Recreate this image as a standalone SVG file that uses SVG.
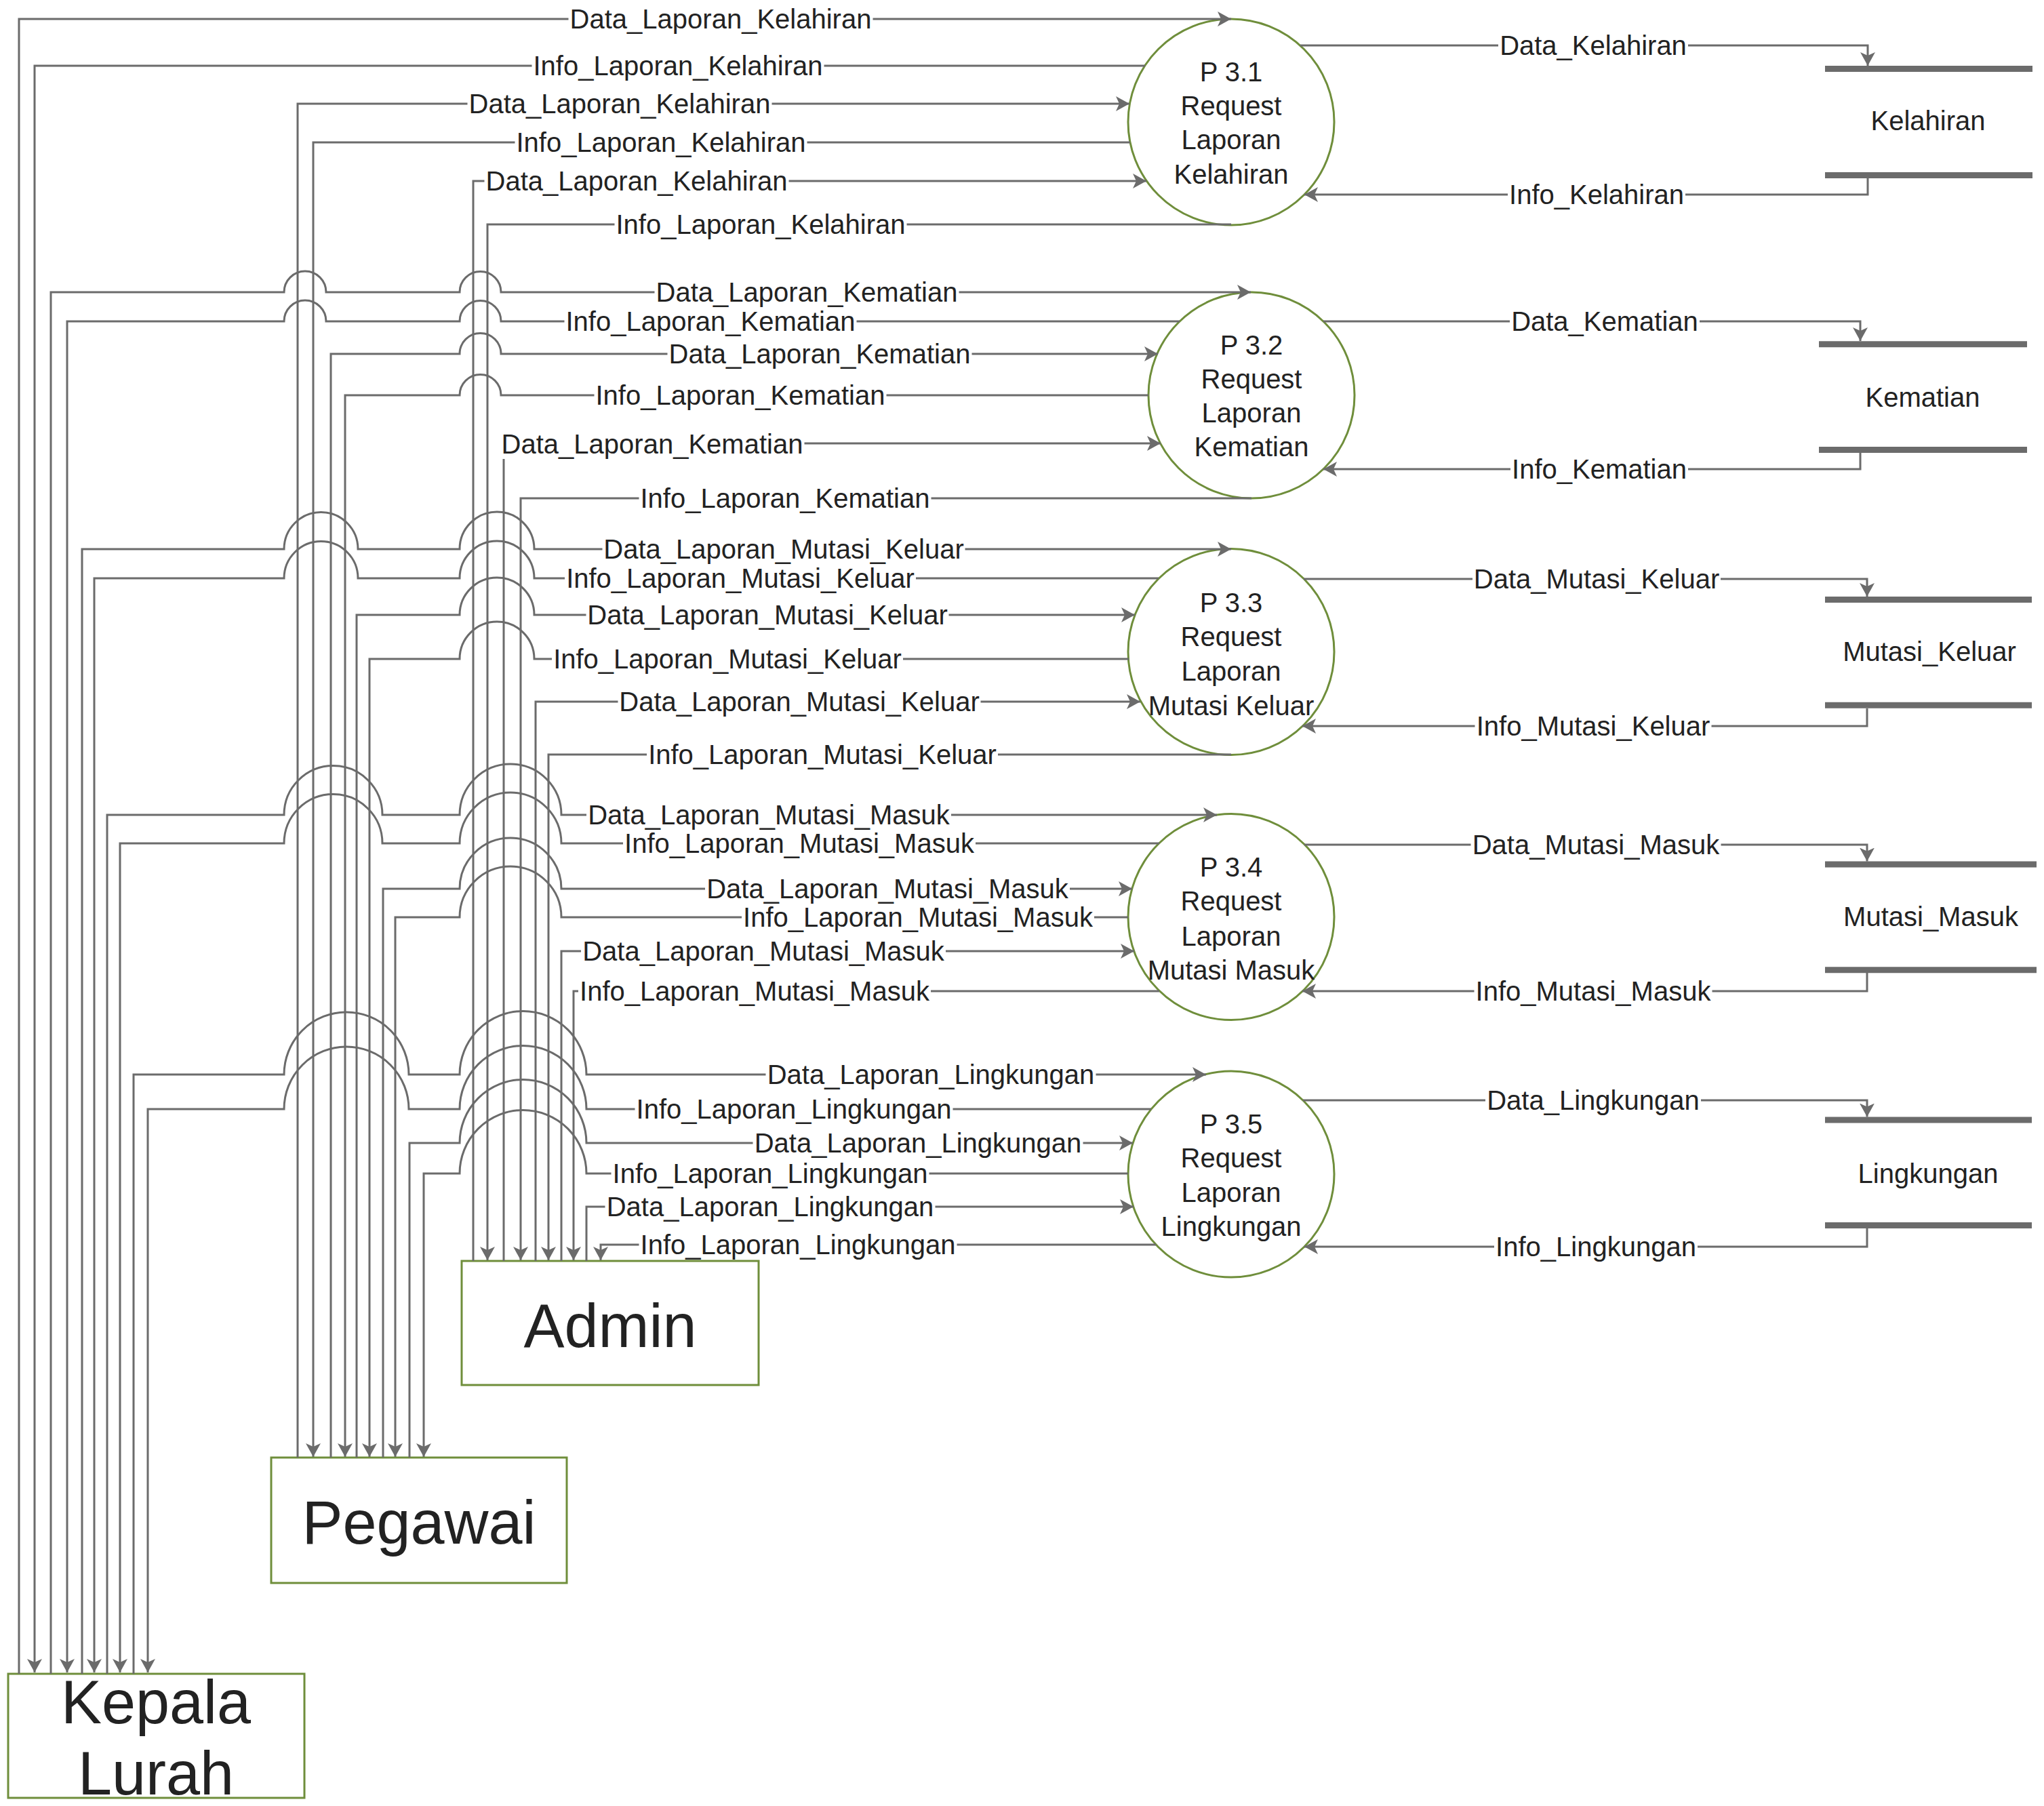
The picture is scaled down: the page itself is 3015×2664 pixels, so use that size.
<svg xmlns="http://www.w3.org/2000/svg" width="3015" height="2664" viewBox="0 0 3015 2664">
<defs>
<marker id="arr" markerUnits="userSpaceOnUse" markerWidth="22" markerHeight="22" viewBox="0 0 22 22" refX="20" refY="11" orient="auto">
<path d="M0,0 L20,11 L0,22 L5,11 Z" fill="#6b6b6b"/>
</marker>
</defs>
<style>
.c{fill:none;stroke:#6b6b6b;stroke-width:3}
.a{marker-end:url(#arr)}
.t{font-family:"Liberation Sans",Arial,sans-serif;font-size:40px;fill:#222;text-anchor:middle}
.bgr rect{fill:#fff;stroke:none;height:42px}
.big{font-size:90px}
.proc{fill:#fff;stroke:#6f8e3b;stroke-width:3}
.ent{fill:#fff;stroke:#6f8e3b;stroke-width:3}
.bar{stroke:#6b6b6b;stroke-width:9}
</style>
<rect width="3015" height="2664" fill="#fff"/>

<g id="p31"><circle class="proc" cx="1816" cy="180" r="152"/>
<text class="t"><tspan x="1816" y="120">P 3.1</tspan><tspan x="1816" y="170">Request</tspan><tspan x="1816" y="220">Laporan</tspan><tspan x="1816" y="271">Kelahiran</tspan></text></g>
<g id="p32"><circle class="proc" cx="1846" cy="583" r="152"/>
<text class="t"><tspan x="1846" y="523">P 3.2</tspan><tspan x="1846" y="573">Request</tspan><tspan x="1846" y="623">Laporan</tspan><tspan x="1846" y="673">Kematian</tspan></text></g>
<g id="p33"><circle class="proc" cx="1816" cy="961.5" r="152"/>
<text class="t"><tspan x="1816" y="903">P 3.3</tspan><tspan x="1816" y="953">Request</tspan><tspan x="1816" y="1004">Laporan</tspan><tspan x="1816" y="1055">Mutasi Keluar</tspan></text></g>
<g id="p34"><circle class="proc" cx="1816" cy="1352.5" r="152"/>
<text class="t"><tspan x="1816" y="1293">P 3.4</tspan><tspan x="1816" y="1343">Request</tspan><tspan x="1816" y="1395">Laporan</tspan><tspan x="1816" y="1445">Mutasi Masuk</tspan></text></g>
<g id="p35"><circle class="proc" cx="1816" cy="1732" r="152"/>
<text class="t"><tspan x="1816" y="1672">P 3.5</tspan><tspan x="1816" y="1722">Request</tspan><tspan x="1816" y="1773">Laporan</tspan><tspan x="1816" y="1823">Lingkungan</tspan></text></g>

<g id="store-kelahiran"><line class="bar" x1="2692" y1="101.5" x2="2998" y2="101.5"/><line class="bar" x1="2692" y1="258.5" x2="2998" y2="258.5"/><text class="t" x="2844" y="192">Kelahiran</text></g>
<g id="store-kematian"><line class="bar" x1="2683" y1="507.7" x2="2990" y2="507.7"/><line class="bar" x1="2683" y1="663.4" x2="2990" y2="663.4"/><text class="t" x="2836" y="600">Kematian</text></g>
<g id="store-mutasi-keluar"><line class="bar" x1="2692" y1="884.6" x2="2997" y2="884.6"/><line class="bar" x1="2692" y1="1040.3" x2="2997" y2="1040.3"/><text class="t" x="2846" y="975">Mutasi_Keluar</text></g>
<g id="store-mutasi-masuk"><line class="bar" x1="2692" y1="1275" x2="3004" y2="1275"/><line class="bar" x1="2692" y1="1430.7" x2="3004" y2="1430.7"/><text class="t" x="2848" y="1366">Mutasi_Masuk</text></g>
<g id="store-lingkungan"><line class="bar" x1="2692" y1="1652" x2="2997" y2="1652"/><line class="bar" x1="2692" y1="1807.6" x2="2997" y2="1807.6"/><text class="t" x="2844" y="1745">Lingkungan</text></g>

<g id="admin"><rect class="ent" x="681" y="1860" width="438" height="183"/><text class="t big" x="900" y="1987">Admin</text></g>
<g id="pegawai"><rect class="ent" x="400" y="2150" width="436" height="185"/><text class="t big" x="618" y="2277">Pegawai</text></g>
<g id="kepala-lurah"><rect class="ent" x="12" y="2469" width="437" height="183"/><text class="t big"><tspan x="230" y="2542">Kepala</tspan><tspan x="230" y="2647">Lurah</tspan></text></g>

<g id="connectors">
<path class="c a" d="M28,2469 V28 H1816"/>
<path class="c a" d="M1689,97 H51 V2467"/>
<path class="c a" d="M75,2469 V431 H419 A31,31 0 0 1 481,431 H678 A30.5,30.5 0 0 1 739,431 H1845"/>
<path class="c a" d="M1740,474 H739 A30.5,30.5 0 0 0 678,474 H481 A31,31 0 0 0 419,474 H99 V2467"/>
<path class="c a" d="M121,2469 V810 H419 A54.5,54.5 0 0 1 528,810 H678 A55,55 0 0 1 788,810 H1816"/>
<path class="c a" d="M1709,853 H788 A55,55 0 0 0 678,853 H528 A54.5,54.5 0 0 0 419,853 H139 V2467"/>
<path class="c a" d="M158,2469 V1202 H419 A72.5,72.5 0 0 1 564,1202 H678 A75,75 0 0 1 828,1202 H1795"/>
<path class="c a" d="M1710,1244 H828 A75,75 0 0 0 678,1244 H564 A72.5,72.5 0 0 0 419,1244 H177 V2467"/>
<path class="c a" d="M197,2469 V1585 H419 A92,92 0 0 1 603,1585 H678 A93.5,93.5 0 0 1 865,1585 H1779"/>
<path class="c a" d="M1698,1636 H865 A93.5,93.5 0 0 0 678,1636 H603 A92,92 0 0 0 419,1636 H218 V2467"/>

<path class="c a" d="M439,2150 V153 H1666"/>
<path class="c a" d="M1667,210 H462 V2149"/>
<path class="c a" d="M488,2150 V522 H678 A30.5,30.5 0 0 1 739,522 H1708"/>
<path class="c a" d="M1694,583 H739 A30.5,30.5 0 0 0 678,583 H509 V2149"/>
<path class="c a" d="M526,2150 V907 H678 A55,55 0 0 1 788,907 H1674"/>
<path class="c a" d="M1665,972 H788 A55,55 0 0 0 678,972 H545 V2149"/>
<path class="c a" d="M565,2150 V1311 H678 A75,75 0 0 1 828,1311 H1670"/>
<path class="c a" d="M1664,1353 H828 A75,75 0 0 0 678,1353 H583 V2149"/>
<path class="c a" d="M604,2150 V1686 H678 A93.5,93.5 0 0 1 865,1686 H1671"/>
<path class="c a" d="M1664,1731 H865 A93.5,93.5 0 0 0 678,1731 H625 V2149"/>

<path class="c a" d="M698,1860 V267 H1691"/>
<path class="c a" d="M1816,331 H719 V1859"/>
<path class="c a" d="M743,1860 V654 H1712"/>
<path class="c a" d="M1846,735 H768 V1859"/>
<path class="c a" d="M790,1860 V1035 H1682"/>
<path class="c a" d="M1816,1113 H809 V1859"/>
<path class="c a" d="M828,1860 V1403 H1673"/>
<path class="c a" d="M1710,1462 H846 V1859"/>
<path class="c a" d="M865,1860 V1780 H1672"/>
<path class="c a" d="M1705,1836 H886 V1859"/>

<path class="c a" d="M1918,67 H2755 V97"/>
<path class="c a" d="M2755,263 V287 H1924"/>
<path class="c a" d="M1952,474 H2744 V503"/>
<path class="c a" d="M2744,668 V692 H1952"/>
<path class="c a" d="M1923,854 H2754 V880"/>
<path class="c a" d="M2754,1045 V1071 H1921"/>
<path class="c a" d="M1924,1246 H2754 V1270.5"/>
<path class="c a" d="M2754,1435 V1462 H1921"/>
<path class="c a" d="M1922,1623 H2754 V1647.5"/>
<path class="c a" d="M2754,1812 V1839 H1924"/>

<g class="bgr">
<rect x="838.5" y="8" width="449" height="42"/>
<rect x="784.5" y="77" width="431" height="42"/>
<rect x="689.5" y="133" width="449" height="42"/>
<rect x="759.5" y="190" width="431" height="42"/>
<rect x="714.5" y="247" width="449" height="42"/>
<rect x="906.5" y="311" width="431" height="42"/>
<rect x="965.5" y="411" width="449" height="42"/>
<rect x="832.5" y="454" width="431" height="42"/>
<rect x="984.5" y="502" width="449" height="42"/>
<rect x="876.5" y="563" width="431" height="42"/>
<rect x="737.5" y="635" width="449" height="42"/>
<rect x="942.5" y="715" width="431" height="42"/>
<rect x="888.5" y="790" width="535" height="42"/>
<rect x="833" y="833" width="518" height="42"/>
<rect x="864.5" y="887" width="535" height="42"/>
<rect x="814" y="952" width="518" height="42"/>
<rect x="911.5" y="1015" width="535" height="42"/>
<rect x="954" y="1093" width="518" height="42"/>
<rect x="865" y="1182" width="538" height="42"/>
<rect x="919" y="1224" width="520" height="42"/>
<rect x="1040" y="1291" width="538" height="42"/>
<rect x="1094" y="1333" width="520" height="42"/>
<rect x="857" y="1383" width="538" height="42"/>
<rect x="853" y="1442" width="520" height="42"/>
<rect x="1129.5" y="1565" width="487" height="42"/>
<rect x="936.5" y="1616" width="469" height="42"/>
<rect x="1110.5" y="1666" width="487" height="42"/>
<rect x="901.5" y="1711" width="469" height="42"/>
<rect x="892.5" y="1760" width="487" height="42"/>
<rect x="942.5" y="1816" width="469" height="42"/>
<rect x="2210" y="47" width="280" height="42"/>
<rect x="2224" y="267" width="262" height="42"/>
<rect x="2227" y="454" width="280" height="42"/>
<rect x="2228" y="672" width="262" height="42"/>
<rect x="2172" y="834" width="366" height="42"/>
<rect x="2175.5" y="1051" width="349" height="42"/>
<rect x="2169.5" y="1226" width="369" height="42"/>
<rect x="2174.5" y="1442" width="351" height="42"/>
<rect x="2191" y="1603" width="318" height="42"/>
<rect x="2204" y="1819" width="300" height="42"/>
</g>

<g class="t">
<text x="1063" y="42">Data_Laporan_Kelahiran</text>
<text x="1000" y="111">Info_Laporan_Kelahiran</text>
<text x="914" y="167">Data_Laporan_Kelahiran</text>
<text x="975" y="224">Info_Laporan_Kelahiran</text>
<text x="939" y="281">Data_Laporan_Kelahiran</text>
<text x="1122" y="345">Info_Laporan_Kelahiran</text>
<text x="1190" y="445">Data_Laporan_Kematian</text>
<text x="1048" y="488">Info_Laporan_Kematian</text>
<text x="1209" y="536">Data_Laporan_Kematian</text>
<text x="1092" y="597">Info_Laporan_Kematian</text>
<text x="962" y="669">Data_Laporan_Kematian</text>
<text x="1158" y="749">Info_Laporan_Kematian</text>
<text x="1156" y="824">Data_Laporan_Mutasi_Keluar</text>
<text x="1092" y="867">Info_Laporan_Mutasi_Keluar</text>
<text x="1132" y="921">Data_Laporan_Mutasi_Keluar</text>
<text x="1073" y="986">Info_Laporan_Mutasi_Keluar</text>
<text x="1179" y="1049">Data_Laporan_Mutasi_Keluar</text>
<text x="1213" y="1127">Info_Laporan_Mutasi_Keluar</text>
<text x="1134" y="1216">Data_Laporan_Mutasi_Masuk</text>
<text x="1179" y="1258">Info_Laporan_Mutasi_Masuk</text>
<text x="1309" y="1325">Data_Laporan_Mutasi_Masuk</text>
<text x="1354" y="1367">Info_Laporan_Mutasi_Masuk</text>
<text x="1126" y="1417">Data_Laporan_Mutasi_Masuk</text>
<text x="1113" y="1476">Info_Laporan_Mutasi_Masuk</text>
<text x="1373" y="1599">Data_Laporan_Lingkungan</text>
<text x="1171" y="1650">Info_Laporan_Lingkungan</text>
<text x="1354" y="1700">Data_Laporan_Lingkungan</text>
<text x="1136" y="1745">Info_Laporan_Lingkungan</text>
<text x="1136" y="1794">Data_Laporan_Lingkungan</text>
<text x="1177" y="1850">Info_Laporan_Lingkungan</text>
<text x="2350" y="81">Data_Kelahiran</text>
<text x="2355" y="301">Info_Kelahiran</text>
<text x="2367" y="488">Data_Kematian</text>
<text x="2359" y="706">Info_Kematian</text>
<text x="2355" y="868">Data_Mutasi_Keluar</text>
<text x="2350" y="1085">Info_Mutasi_Keluar</text>
<text x="2354" y="1260">Data_Mutasi_Masuk</text>
<text x="2350" y="1476">Info_Mutasi_Masuk</text>
<text x="2350" y="1637">Data_Lingkungan</text>
<text x="2354" y="1853">Info_Lingkungan</text>
</g>
</g>
</svg>
